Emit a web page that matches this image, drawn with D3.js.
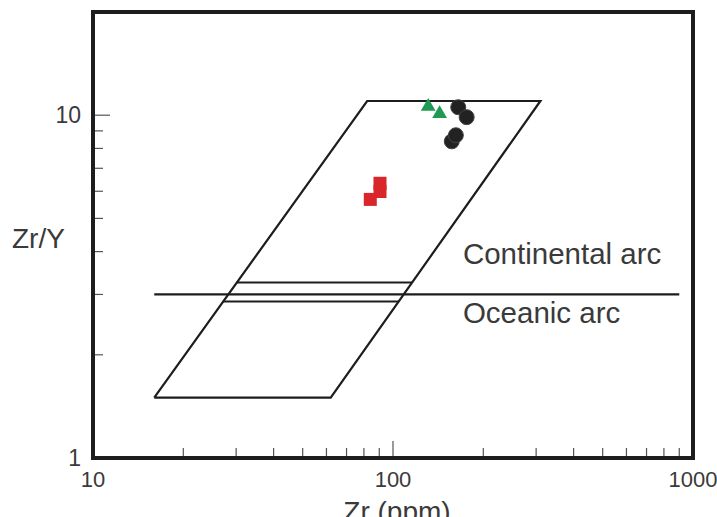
<!DOCTYPE html>
<html>
<head>
<meta charset="utf-8">
<script src="https://cdn.jsdelivr.net/npm/d3@7"></script>
<style>
  html, body { margin: 0; padding: 0; background: #fff; overflow: hidden; }
  svg { display: block; font-family: "Liberation Sans", Arial, sans-serif; }
</style>
</head>
<body>
<div id="chart"></div>
<script>
// field outline (Zr ppm, Zr/Y)
const fieldOutline = [[16, 1.5], [62, 1.5], [310, 11], [82, 11]];
// arc divider and the two bounding lines inside the field
const dividerLine = [[16, 3], [900, 3]];
const innerLevels = [3.25, 2.86];
// samples
const circleSamples = [[165, 10.55], [176, 9.87], [157, 8.39], [162, 8.74]];
const triangleSamples = [[131, 10.6], [143, 10.1]];
const squareSamples = [[90.5, 6.33], [90.5, 5.99], [84, 5.68]];
const fieldLabels = [
  {text: 'Continental arc', x: 171, y: 3.67},
  {text: 'Oceanic arc', x: 171, y: 2.48}
];
const xTickLabels = [10, 100, 1000];
const yTickLabels = [1, 10];

(function(){
    const W = 717, H = 517;
    const margin = {left: 93, top: 12, right: 24, bottom: 59};
    const width = W - margin.left - margin.right, height = H - margin.top - margin.bottom;
    const ink = '#1d1d1d', textCol = '#3a3a3a';

    const svg = d3.select('#chart').append('svg').attr('width', W).attr('height', H);
    const g = svg.append('g').attr('transform', `translate(${margin.left},${margin.top})`);

    const x = d3.scaleLog().domain([10, 1000]).range([0, width]);
    const y = d3.scaleLog().domain([1, 20]).range([height, 0]);
    const line = d3.line().x(d => x(d[0])).y(d => y(d[1]));

    // ticks inside the frame
    const isMajor = v => Math.abs(Math.log10(v) - Math.round(Math.log10(v))) < 1e-9;
    g.selectAll('line.xt').data(x.ticks()).join('line').attr('class','xt')
        .attr('x1', d => x(d)).attr('x2', d => x(d))
        .attr('y1', height).attr('y2', d => height - (isMajor(d) ? 17 : 10))
        .attr('stroke', '#555').attr('stroke-width', 1.2);
    g.selectAll('line.yt').data(y.ticks()).join('line').attr('class','yt')
        .attr('y1', d => y(d)).attr('y2', d => y(d))
        .attr('x1', 0).attr('x2', d => isMajor(d) ? 17 : 10)
        .attr('stroke', '#555').attr('stroke-width', 1.2);

    // tick labels
    g.selectAll('text.xl').data(xTickLabels).join('text').attr('class','xl')
        .attr('x', d => x(d)).attr('y', height + 29)
        .attr('text-anchor', 'middle').attr('font-size', 22).attr('fill', textCol)
        .text(d => d);
    g.selectAll('text.yl').data(yTickLabels).join('text').attr('class','yl')
        .attr('x', -12).attr('y', d => y(d)).attr('dy', '0.36em')
        .attr('text-anchor', 'end').attr('font-size', 23).attr('fill', textCol)
        .text(d => d);

    // axis titles
    svg.append('text').attr('x', 12).attr('y', 248)
        .attr('font-size', 28).attr('fill', textCol).text('Zr/Y');
    svg.append('text').attr('x', margin.left + x(100) + 4).attr('y', 521)
        .attr('text-anchor', 'middle').attr('font-size', 28).attr('fill', textCol).text('Zr (ppm)');

    // field outline
    g.append('path').datum(fieldOutline.concat([fieldOutline[0]]))
        .attr('d', line).attr('fill', 'none').attr('stroke', ink).attr('stroke-width', 2.2)
        .attr('stroke-linejoin', 'miter');

    // inner lines: span between the two slanted sides of the field
    const logInterp = (a, b, yv) => {
        const t = (Math.log10(yv) - Math.log10(a[1])) / (Math.log10(b[1]) - Math.log10(a[1]));
        return Math.pow(10, Math.log10(a[0]) + t * (Math.log10(b[0]) - Math.log10(a[0])));
    };
    const innerLines = innerLevels.map(v => [
        [logInterp(fieldOutline[0], fieldOutline[3], v), v],
        [logInterp(fieldOutline[1], fieldOutline[2], v), v]
    ]);
    g.selectAll('path.inner').data(innerLines).join('path').attr('class','inner')
        .attr('d', line).attr('fill', 'none').attr('stroke', ink).attr('stroke-width', 2);

    g.append('path').datum(dividerLine).attr('d', line)
        .attr('fill', 'none').attr('stroke', ink).attr('stroke-width', 2.2);

    // field labels
    g.selectAll('text.fl').data(fieldLabels).join('text').attr('class','fl')
        .attr('x', d => x(d.x)).attr('y', d => y(d.y))
        .attr('font-size', 29.5).attr('fill', textCol).text(d => d.text);

    // samples
    g.selectAll('rect.sq').data(squareSamples).join('rect').attr('class','sq')
        .attr('x', d => x(d[0]) - 6.5).attr('y', d => y(d[1]) - 6.5)
        .attr('width', 13).attr('height', 13)
        .attr('fill', '#d8262a');
    g.selectAll('path.tri').data(triangleSamples).join('path').attr('class','tri')
        .attr('transform', d => `translate(${x(d[0])},${y(d[1])})`)
        .attr('d', d3.symbol(d3.symbolTriangle, 95))
        .attr('fill', '#1f9a52');
    g.selectAll('circle.c').data(circleSamples).join('circle').attr('class','c')
        .attr('cx', d => x(d[0])).attr('cy', d => y(d[1])).attr('r', 7.5)
        .attr('fill', '#222').attr('stroke', '#444').attr('stroke-width', 1);

    // frame
    g.append('rect').attr('width', width).attr('height', height)
        .attr('fill', 'none').attr('stroke', ink).attr('stroke-width', 4);
})();
</script>
</body>
</html>
